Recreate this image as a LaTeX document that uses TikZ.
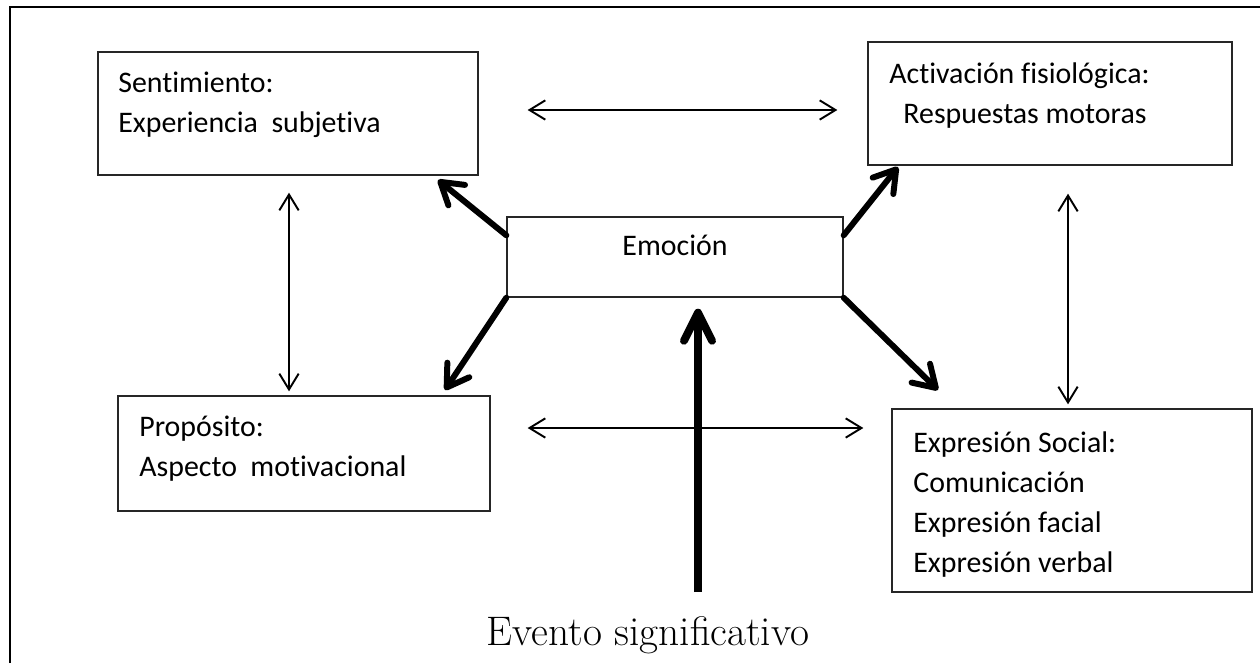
\documentclass[tikz,border=0pt]{standalone}
\usepackage{fontspec}
\newfontfamily\boxfont[Ligatures=NoCommon]{Carlito}
\usetikzlibrary{arrows.meta}

\begin{document}
\begin{tikzpicture}[x=0.02cm, y=-0.02cm,
    box/.style={draw=black!85, line width=0.8pt, rectangle, inner sep=0pt},
    boxtext/.style={anchor=base west, inner sep=0pt, align=left, font=\boxfont\fontsize{17}{22.7}\selectfont},
    biarrow/.style={line width=1.1pt, {Straight Barb[length=9pt,width=11pt]}-{Straight Barb[length=9pt,width=11pt]}},
    thickarrow/.style={line width=3.4pt, line cap=round, -{Straight Barb[length=12pt,width=15pt,round]}},
    eventarrow/.style={line width=4.5pt, -{Straight Barb[length=16pt,width=16pt,round]}}]
    \useasboundingbox (0,0) rectangle (1260,663);

    % Outer frame
    \draw[line width=1.2pt] (10,663) -- (10,7) -- (1260,7);

    % Sentimiento block (text placed by its last baseline)
    \node[box, minimum width=7.6cm, minimum height=2.46cm] (sent) at (288,113.5) {};
    \node[boxtext] (senttext) at (118,132) {Sentimiento:\\Experiencia\ \ subjetiva};

    % Activacion block
    \node[box, minimum width=7.28cm, minimum height=2.46cm] (act) at (1050,103.5) {};
    \node[boxtext] (acttext) at (889,123) {Activación fisiológica:\\\hspace{8pt}Respuestas motoras};

    % Emocion block
    \node[box, minimum width=6.72cm, minimum height=1.6cm] (emo) at (675,257) {};
    \node[boxtext, anchor=base] (emotext) at (675,255) {Emoción};

    % Proposito block
    \node[box, minimum width=7.44cm, minimum height=2.3cm] (prop) at (304,453.5) {};
    \node[boxtext] (proptext) at (139,476) {Propósito:\\Aspecto\ \ motivacional};

    % Expresion block
    \node[box, minimum width=7.2cm, minimum height=3.66cm] (expr) at (1072,500.5) {};
    \node[boxtext] (exprtext) at (913,572) {Expresión Social:\\Comunicación\\Expresión facial\\Expresión verbal};

    % Event label
    \node[anchor=base, inner sep=0pt, font=\fontsize{23.5}{28}\selectfont] (ev) at (648,645) {Evento significativo};

    % Links between the four outer blocks
    \draw[biarrow, shorten <=0.98cm, shorten >=0.6cm] (sent.east |- 0,110) -- (act.west |- 0,110);
    \draw[biarrow, shorten <=0.74cm, shorten >=0.56cm] (prop.east |- 0,428) -- (expr.west |- 0,428);
    \draw[biarrow, shorten <=0.34cm, shorten >=0.08cm] (289,0 |- sent.south) -- (289,0 |- prop.north);
    \draw[biarrow, shorten <=0.56cm, shorten >=0.08cm] (1068,0 |- act.south) -- (1068,0 |- expr.north);

    % From Emocion outwards
    \coordinate (tipsent) at (438,180);
    \coordinate (tipact) at (898,167);
    \coordinate (tipprop) at (445,390);
    \coordinate (tipexpr) at (938,390);
    \draw[thickarrow] ([yshift=-0.38cm]emo.north west) -- (tipsent);
    \draw[thickarrow] ([yshift=-0.38cm]emo.north east) -- (tipact);
    \draw[thickarrow] (emo.south west) -- (tipprop);
    \draw[thickarrow] (emo.south east) -- (tipexpr);

    % Event into Emocion
    \coordinate (evtop) at (698,592);
    \draw[eventarrow, shorten >=0.22cm] (evtop) -- (698,0 |- emo.south);
\end{tikzpicture}
\end{document}
